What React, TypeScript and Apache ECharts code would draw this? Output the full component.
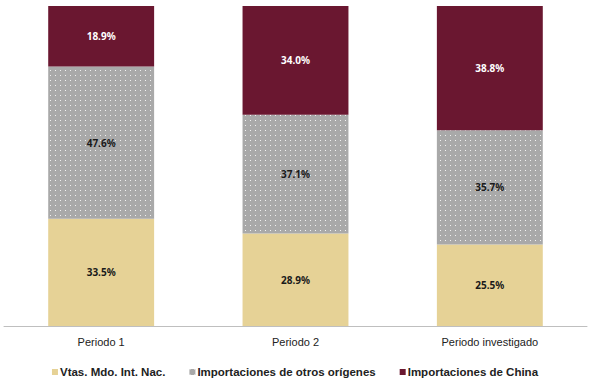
import React, { useEffect, useRef } from "react";
import * as echarts from "echarts";

const categories = ["Periodo 1", "Periodo 2", "Periodo investigado"];
const nacional = [33.5, 28.9, 25.5];
const otros = [47.6, 37.1, 35.7];
const china = [18.9, 34.0, 38.8];
const seriesNames = ["Vtas. Mdo. Int. Nac.", "Importaciones de otros orígenes", "Importaciones de China"];

export default function App() {
  const ref = useRef<HTMLDivElement>(null);
  useEffect(() => {
    const chart = echarts.init(ref.current!, null, { renderer: "svg" });
    const label = (color: string) => ({
      show: true,
      position: "inside",
      formatter: (p: any) => p.value.toFixed(1) + "%",
      color,
      fontFamily: "Noto Sans",
      fontWeight: "bold",
      fontSize: 10,
    });
    chart.setOption({
      animation: false,
      grid: { left: 4, right: 3, top: 6, bottom: 56 },
      xAxis: {
        type: "category",
        data: categories,
        axisLine: { lineStyle: { color: "#bfbfbf", width: 1 } },
        axisTick: { show: false },
        axisLabel: { color: "#222", fontFamily: "Liberation Sans", fontSize: 11, margin: 10 },
      },
      yAxis: { type: "value", min: 0, max: 100, show: false },
      legend: {
        top: 361,
        left: "center",
        padding: [5, 5, 5, 5],
        itemWidth: 6,
        itemHeight: 6,
        itemGap: 24,
        icon: "rect",
        textStyle: { color: "#222", fontFamily: "Liberation Sans", fontWeight: "bold", fontSize: 11.5, padding: [0, 0, 0, -3] },
        data: seriesNames,
      },
      series: [
        {
          name: seriesNames[0],
          type: "bar",
          stack: "s",
          barWidth: "54.5%",
          data: nacional,
          itemStyle: { color: "#e6d296" },
          label: label("#1a1a1a"),
        },
        {
          name: seriesNames[1],
          type: "bar",
          stack: "s",
          data: otros,
          itemStyle: {
            color: "#a9a9a9",
            decal: { symbol: "rect", symbolSize: 1, dashArrayX: [1, 4], dashArrayY: [1, 4], color: "rgba(255,255,255,0.85)" },
          },
          label: label("#1a1a1a"),
        },
        {
          name: seriesNames[2],
          type: "bar",
          stack: "s",
          data: china,
          itemStyle: { color: "#6a1730" },
          label: label("#ffffff"),
        },
      ],
    });
    return () => chart.dispose();
  }, []);
  return <div ref={ref} style={{ width: 590, height: 382, position: "absolute", left: 0, top: 0 }} />;
}
